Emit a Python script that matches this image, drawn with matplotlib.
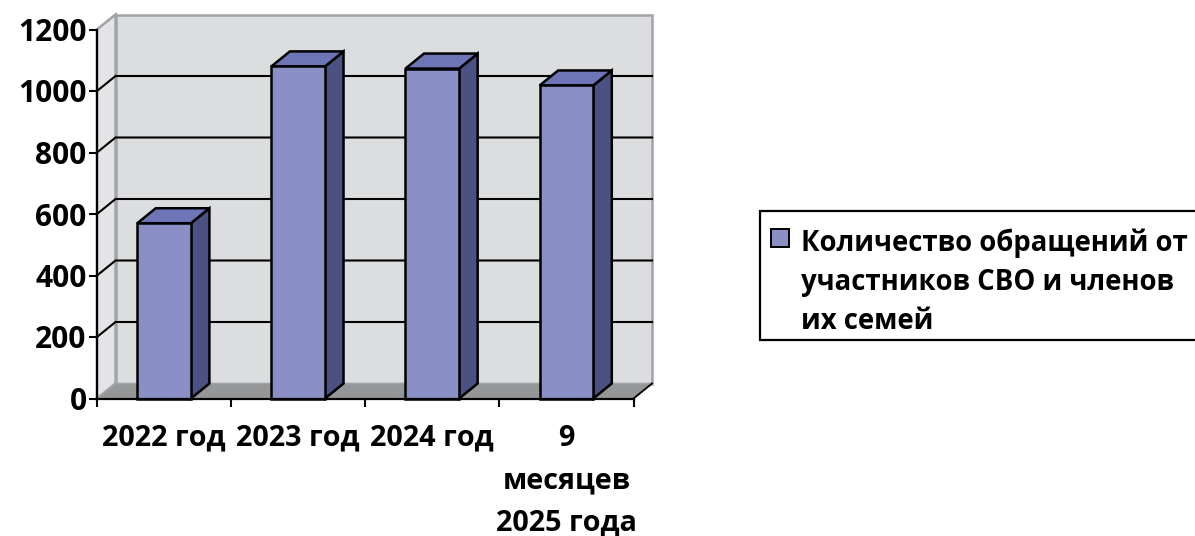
import matplotlib
matplotlib.use('Agg')
import matplotlib.pyplot as plt
from matplotlib.patches import Polygon, Rectangle

plt.rcParams['font.family'] = ['Open Sans', 'DejaVu Sans']
plt.rcParams['font.weight'] = 'bold'

categories = ['2022 год', '2023 год', '2024 год', '9\nмесяцев\n2025 года']
values = [570, 1080, 1073, 1018]
y_ticks = [0, 200, 400, 600, 800, 1000, 1200]
series_name = 'Количество обращений от\nучастников СВО и членов\nих семей'

W, H = 1195, 536
# depth of the fake 3d box, in data units
dx = 18.5 / 134
dy = 15 / 0.3075
bar_w = 0.4

front = '#8A8FC6'
top = '#6E75B6'
side = '#4B5283'
wall = '#DCDDDF'
wall2 = '#E3E4E6'
floor = '#959698'
edge = '#A2A3A7'

fig = plt.figure(figsize=(W / 100, H / 100), dpi=100)
ax = fig.add_axes([97 / W, 1 - 398.5 / H, (633.5 - 97) / W, (398.5 - 29.5) / H])
ax.set_xlim(0, len(categories))
ax.set_ylim(0, y_ticks[-1])
ax.patch.set_visible(False)


def poly(pts, fc, ec, lw, z):
    ax.add_patch(Polygon(pts, closed=True, fc=fc, ec=ec, lw=lw, zorder=z,
                         clip_on=False, joinstyle='miter'))


n = len(categories)
ymax = y_ticks[-1]
# walls and floor
poly([(dx, dy), (n + dx, dy), (n + dx, ymax + dy), (dx, ymax + dy)], wall, edge, 1.8, 1)
poly([(0, 0), (dx, dy), (dx, ymax + dy), (0, ymax)], wall2, edge, 1.8, 1)
poly([(0, 0), (n, 0), (n + dx, dy), (dx, dy)], floor, edge, 1.2, 1.5)
ax.plot([n, n + dx], [0, dy], color='black', lw=1.3, zorder=2, clip_on=False)

# gridlines on back and side wall
for v in y_ticks[1:-1]:
    ax.plot([0, dx, n + dx], [v, v + dy, v + dy], color='black', lw=1.5, zorder=2,
            clip_on=False, solid_joinstyle='miter')
ax.plot([0, dx], [ymax, ymax + dy], color=edge, lw=1.3, zorder=2, clip_on=False)

# bars
for i, v in enumerate(values):
    x0 = i + 0.5 - bar_w / 2
    x1 = x0 + bar_w
    poly([(x1, 0), (x1 + dx, dy), (x1 + dx, v + dy), (x1, v)], side, 'black', 1.8, 3)
    poly([(x0, v), (x1, v), (x1 + dx, v + dy), (x0 + dx, v + dy)], top, 'black', 1.8, 3)
    poly([(x0, 0), (x1, 0), (x1, v), (x0, v)], front, 'black', 1.8, 4)

for s in ['top', 'right']:
    ax.spines[s].set_visible(False)
for s in ['left', 'bottom']:
    ax.spines[s].set_linewidth(1.6)
    ax.spines[s].set_zorder(5)

ax.set_yticks(y_ticks)
ax.set_xticks(range(n + 1))
ax.set_xticklabels([])
ax.set_xticks([i + 0.5 for i in range(n)], categories, minor=True, linespacing=1.62)
ax.tick_params(axis='y', length=5.5, width=1.5, labelsize=21.5, pad=2)
ax.tick_params(axis='x', which='major', length=5.5, width=1.5)
ax.tick_params(axis='x', which='minor', length=0, labelsize=20.7, pad=18)

# legend box runs past the right edge of the picture
fig.add_artist(Rectangle((760 / W, 1 - 340 / H), 450 / W, 129 / H, transform=fig.transFigure,
                         fc='white', ec='black', lw=1.6))
fig.add_artist(Rectangle((770.5 / W, 1 - 247 / H), 18.5 / W, 18.5 / H, transform=fig.transFigure,
                         fc=front, ec='black', lw=1.4))
fig.text(801 / W, 1 - 228.5 / H, series_name, fontsize=19.8, va='top', ha='left', linespacing=1.46)

fig.savefig('out.png', dpi=100)
